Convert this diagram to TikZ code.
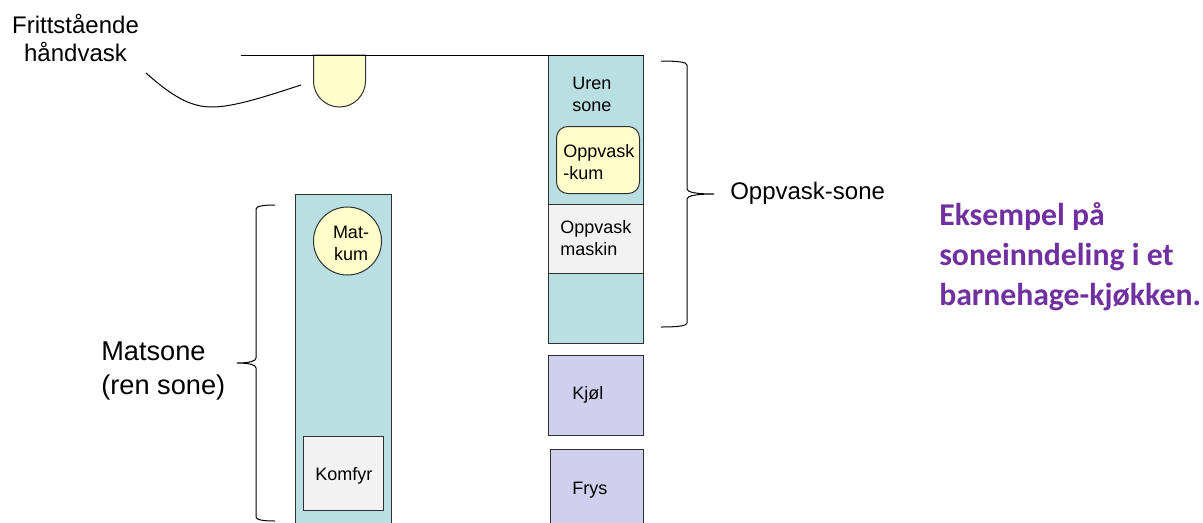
\documentclass[tikz,border=0pt]{standalone}
\usepackage{fontspec}
\setmainfont{Liberation Sans}
\newfontfamily\titlefont{Carlito}
\definecolor{zoneteal}{HTML}{B9DFE2}
\definecolor{sinkyellow}{HTML}{FFFFCC}
\definecolor{applgrey}{HTML}{F2F2F2}
\definecolor{coldblue}{HTML}{D0D0EE}
\definecolor{titlepurple}{HTML}{7030A0}
\definecolor{edgegrey}{HTML}{303030}
\tikzset{
  x=0.75pt,y=-0.75pt,
  outlined/.style={draw=edgegrey,line width=0.75pt},
  boxshape/.style={outlined,rectangle,inner sep=0pt,anchor=north west},
  zonebox/.style={boxshape,fill=zoneteal},
  greybox/.style={boxshape,fill=applgrey},
  coldbox/.style={boxshape,fill=coldblue},
  smalltext/.style={font=\fontsize{13.5pt}{16.5pt}\selectfont,align=left,inner sep=0pt,anchor=west},
  midtext/.style={font=\fontsize{18pt}{21pt}\selectfont,inner sep=0pt},
  bigtext/.style={font=\fontsize{20.4pt}{26pt}\selectfont,align=left,inner sep=0pt,anchor=west},
  titletext/.style={font=\titlefont\bfseries\fontsize{23.8pt}{30pt}\selectfont,text=titlepurple,align=left,inner sep=0pt,anchor=west},
  thinline/.style={line width=0.75pt,black},
}
\begin{document}
\begin{tikzpicture}
\useasboundingbox (0,0) rectangle (1203,522);
\clip (0,0) rectangle (1203,522);
% columns
\node[zonebox,minimum width=72pt,minimum height=270pt] (matzone) at (295,194) {};
\node[zonebox,minimum width=71.6pt,minimum height=216pt] (oppzone) at (548,55) {};
% appliances
\node[greybox,minimum width=60pt,minimum height=55.5pt] (komfyr) at (303,436) {};
\node[smalltext] (komfyrt) at (315,476) {Komfyr};
\node[greybox,minimum width=71.6pt,minimum height=51.75pt] (maskin) at (548,204) {};
\node[smalltext] (maskint) at (560,238) {Oppvask\\maskin};
\node[coldbox,minimum width=71.6pt,minimum height=60pt] (kjol) at (548,355) {};
\node[smalltext] (kjolt) at (572,395) {Kjøl};
\node[coldbox,minimum width=70pt,minimum height=70pt] (frys) at (550,449) {};
\node[smalltext] (fryst) at (572,490) {Frys};
% sinks
\node[outlined,circle,fill=sinkyellow,minimum size=51pt,inner sep=0pt] (matkum) at (347.5,241) {};
\node[smalltext,align=center,anchor=center] (matkumt) at (351,243) {Mat-\\kum};
\node[outlined,rectangle,rounded corners=8.5pt,fill=sinkyellow,anchor=north west,inner sep=0pt,minimum width=62.25pt,minimum height=50.25pt] (oppkum) at (556,126) {};
\node[smalltext] (oppkumt) at (563,162) {Oppvask\\-kum};
\node[smalltext] (uren) at (572,94) {Uren\\sone};
% wall and hand basin
\draw[outlined,fill=sinkyellow] (313.5,55) -- (313.5,81) arc[start angle=180,end angle=0,radius=26] -- (365.5,55) -- cycle;
\draw[thinline] (241,55) -- (644,55);
% leader to basin
\coordinate (leadA) at (146,73);
\coordinate (leadB) at (301,85);
\draw[thinline] (leadA) .. controls (172,96) and (190,107) .. (212,107) .. controls (235,107) and (270,95) .. (leadB);
% braces
\draw[thinline] (275,205) .. controls (264,205) and (256,206) .. (256,209) -- (256,358) .. controls (256,361) and (250,363) .. (237,363) .. controls (250,363) and (256,365) .. (256,368) -- (256,517) .. controls (256,520) and (264,521) .. (275,521);
\draw[thinline] (661,61) .. controls (677,61) and (687,62) .. (687,65) -- (687,189) .. controls (687,192) and (695,194) .. (714,194) .. controls (695,194) and (687,196) .. (687,199) -- (687,323) .. controls (687,326) and (677,327) .. (661,327);
% labels
\node[midtext,align=center] (handvask) at (75.5,38) {Frittstående\\håndvask};
\node[midtext,anchor=west] (oppsone) at (730,193.5) {Oppvask-sone};
\node[bigtext] (matsone) at (101,371) {Matsone\\(ren sone)};
\node[titletext] (title) at (939,257) {Eksempel på\\soneinndeling i et\\barnehage-kjøkken.};
\end{tikzpicture}
\end{document}
